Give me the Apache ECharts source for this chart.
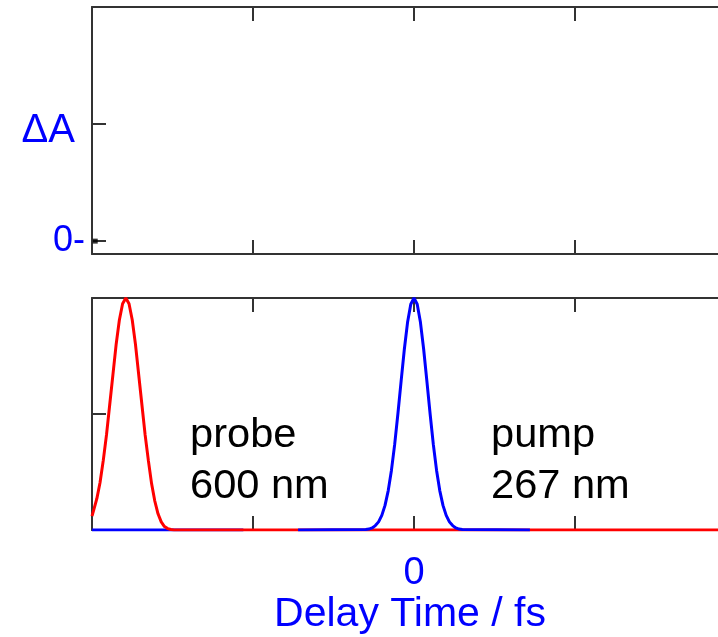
<!DOCTYPE html>
<html>
<head>
<meta charset="utf-8">
<script src="https://cdn.jsdelivr.net/npm/echarts@6/dist/echarts.min.js"></script>
<style>
  html, body { margin: 0; padding: 0; background: #fff; }
  #chart { width: 718px; height: 637px; }
</style>
</head>
<body>
<div id="chart"></div>
<script>
// delay axis (fs)
const delayTicks = [0]
// top panel: only the first point at zero
const deltaAPoints = [[-198, 0]]
// probe pulse (600 nm), red
const probeTimes = [-200, -199, -197, -195, -193, -191, -189, -187, -185, -183, -181, -179,
  -177, -175, -173, -171, -169, -167, -165, -163, -161, -159, -157, -155, -153, -151, -149, -147, 200]
const probeValues = [0.06, 0.085, 0.135, 0.205, 0.3, 0.41, 0.54, 0.67, 0.8, 0.905, 0.975, 1.0,
  0.975, 0.905, 0.8, 0.67, 0.54, 0.41, 0.3, 0.2, 0.125, 0.07, 0.035, 0.015, 0.006, 0.002, 0, 0, 0]
// pump pulse (267 nm), blue
const pumpTimes = [-72, -30, -28, -26, -24, -22, -20, -18, -16, -14, -12, -10, -8, -6, -4, -2, 0,
  2, 4, 6, 8, 10, 12, 14, 16, 18, 20, 22, 24, 26, 28, 30, 72]
const pumpValues = [0, 0.002, 0.004, 0.009, 0.019, 0.035, 0.063, 0.106, 0.17, 0.258, 0.369, 0.501, 0.642, 0.779, 0.895, 0.973, 1.0,
  0.973, 0.895, 0.779, 0.642, 0.501, 0.369, 0.258, 0.17, 0.106, 0.063, 0.035, 0.019, 0.009, 0.004, 0.002, 0]
const pumpBaseTimes = [-200, -106]
const pumpBaseValues = [0, 0]

const BLUE = '#0000ff'
const RED = '#ff0000'
const AXIS = '#333'
const FONT = 'Liberation Sans'

const pairs = (xs, ys) => xs.map((x, i) => [x, ys[i]])

const axisLine = { show: true, onZero: false, lineStyle: { color: AXIS, width: 2 } }
const axisTick = { show: true, inside: true, length: 14, lineStyle: { color: AXIS, width: 2 } }

function xAxisFor(gridIndex, position, labels) {
  return {
    type: 'value', gridIndex: gridIndex, position: position,
    min: -200, max: 200, interval: 100,
    axisLine: axisLine, axisTick: axisTick,
    splitLine: { show: false },
    axisLabel: labels ? {
      show: true, customValues: delayTicks, margin: 25,
      color: BLUE, fontSize: 38, fontFamily: FONT
    } : { show: false }
  }
}

const myChart = echarts.init(document.getElementById('chart'))
const option = {
  animation: false,
  grid: [
    { left: 92, right: -18, top: 7, height: 247, outerBoundsMode: 'none', containLabel: false },
    { left: 92, right: -18, top: 298, height: 232, outerBoundsMode: 'none', containLabel: false }
  ],
  xAxis: [
    xAxisFor(0, 'bottom', false),
    xAxisFor(0, 'top', false),
    Object.assign(xAxisFor(1, 'bottom', true), {
      name: 'Delay Time / fs', nameLocation: 'middle', nameGap: 64,
      nameTextStyle: { color: BLUE, fontSize: 41, fontFamily: FONT, padding: [0, 8, 0, 0] }
    }),
    xAxisFor(1, 'top', false)
  ],
  yAxis: [
    {
      type: 'value', gridIndex: 0, min: -0.055, max: 1,
      axisLine: axisLine,
      axisTick: Object.assign({ customValues: [0, 0.5] }, axisTick),
      splitLine: { show: false },
      axisLabel: {
        customValues: [0], formatter: () => '0-', margin: 7,
        color: BLUE, fontSize: 36, fontFamily: FONT
      },
      name: 'ΔA', nameLocation: 'middle', nameRotate: 0, nameGap: 17, nameMoveOverlap: false,
      nameTextStyle: { color: BLUE, fontSize: 40, fontFamily: FONT, padding: [12, 0, 0, 0] }
    },
    {
      type: 'value', gridIndex: 1, min: 0, max: 1,
      axisLine: axisLine,
      axisTick: Object.assign({ customValues: [0.5] }, axisTick),
      splitLine: { show: false },
      axisLabel: { show: false }
    }
  ],
  graphic: [
    { type: 'text', left: 190, top: 410, scaleX: 1.04, style: { text: 'probe\n600 nm', fill: '#000', font: '40px "Liberation Sans"', lineHeight: 51 } },
    { type: 'text', left: 491, top: 410, scaleX: 1.04, style: { text: 'pump\n267 nm', fill: '#000', font: '40px "Liberation Sans"', lineHeight: 51 } }
  ],
  series: [
    {
      type: 'scatter', xAxisIndex: 0, yAxisIndex: 0,
      data: deltaAPoints, symbol: 'rect', symbolSize: 5,
      itemStyle: { color: '#000' }
    },
    {
      type: 'line', xAxisIndex: 2, yAxisIndex: 1,
      data: pairs(pumpBaseTimes, pumpBaseValues), showSymbol: false,
      lineStyle: { color: BLUE, width: 3 }
    },
    {
      type: 'line', xAxisIndex: 2, yAxisIndex: 1,
      data: pairs(probeTimes, probeValues), showSymbol: false,
      lineStyle: { color: RED, width: 3 }
    },
    {
      type: 'line', xAxisIndex: 2, yAxisIndex: 1,
      data: pairs(pumpTimes, pumpValues), showSymbol: false,
      lineStyle: { color: BLUE, width: 3 }
    }
  ]
}
myChart.setOption(option, true)
</script>
</body>
</html>
